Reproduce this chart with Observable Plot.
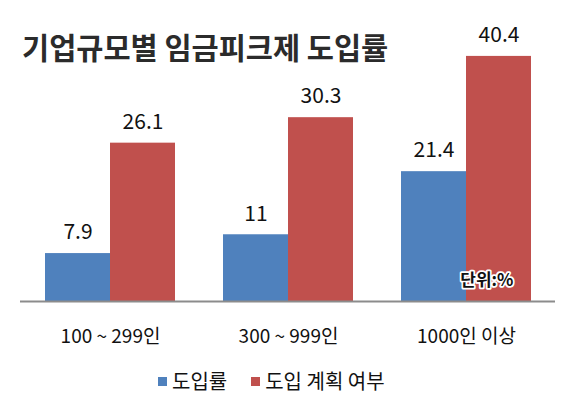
<!DOCTYPE html>
<html>
<head>
<meta charset="utf-8">
<script src="https://cdn.jsdelivr.net/npm/d3@7"></script>
<script src="https://cdn.jsdelivr.net/npm/@observablehq/plot@0.6"></script>
<style>
  html, body { margin: 0; padding: 0; background: #fff; }
  #wrap { position: relative; width: 565px; height: 395px; overflow: hidden; font-family: "Noto Sans CJK KR", "Noto Sans", sans-serif; }
  #title { position: absolute; left: 22px; top: 29px; font-size: 29.5px; line-height: 34px; font-weight: bold; color: #2b2b2b; white-space: nowrap; }
  #chart { position: absolute; left: 0; top: 0; }
  #legend { position: absolute; left: 158px; top: 367px; display: flex; align-items: center; font-size: 20px; line-height: 28px; color: #111; white-space: nowrap; }
  .item { display: flex; align-items: center; margin-right: 24px; }
  .sw { width: 9px; height: 9px; margin-right: 5px; }
</style>
</head>
<body>
<div id="wrap">
  <div id="chart"></div>
  <div id="title"></div>
  <div id="legend"></div>
</div>
<script>
const titleText = "기업규모별 임금피크제 도입률";
const groups = ["100 ~ 299인", "300 ~ 999인", "1000인 이상"];
const adoption = [7.9, 11, 21.4];
const planned = [26.1, 30.3, 40.4];
const seriesNames = ["도입률", "도입 계획 여부"];
const seriesColors = ["#4F81BD", "#C0504D"];
const unitText = "단위:%";

const blueData = groups.map((g, i) => ({group: g, value: adoption[i]}));
const redData = groups.map((g, i) => ({group: g, value: planned[i]}));

const half = 65;
const chart = Plot.plot({
  width: 565,
  height: 395,
  marginLeft: 20,
  marginRight: 10,
  marginTop: 28,
  marginBottom: 94,
  style: {fontFamily: "'Noto Sans CJK KR', 'Noto Sans', sans-serif", fontSize: "19px", color: "#111", background: "transparent"},
  x: {domain: groups, paddingInner: 0.27, paddingOuter: 0.135, tickSize: 0, tickPadding: 28, label: null},
  y: {domain: [0, 45], axis: null},
  marks: [
    Plot.barY(blueData, {x: "group", y: "value", fill: seriesColors[0], insetRight: half}),
    Plot.barY(redData, {x: "group", y: "value", fill: seriesColors[1], insetLeft: half}),
    Plot.ruleY([0], {stroke: "#8c8c8c", strokeWidth: 2}),
    Plot.text(blueData, {x: "group", y: "value", text: d => String(d.value), dx: -half / 2, dy: -21, fontSize: 21, fill: "#111"}),
    Plot.text(redData, {x: "group", y: "value", text: d => String(d.value), dx: half / 2, dy: -21, fontSize: 21, fill: "#111"}),
    Plot.text([unitText], {frameAnchor: "bottom-right", text: d => d, dx: -42, dy: -21, lineAnchor: "middle", fontSize: 17, fontWeight: 600, fill: "#111", stroke: "#fff", strokeWidth: 3.5, paintOrder: "stroke"})
  ]
});
document.getElementById("chart").appendChild(chart);
document.getElementById("title").textContent = titleText;

const legend = document.getElementById("legend");
seriesNames.forEach((name, i) => {
  const item = document.createElement("div");
  item.className = "item";
  const sw = document.createElement("div");
  sw.className = "sw";
  sw.style.background = seriesColors[i];
  const label = document.createElement("span");
  label.textContent = name;
  item.appendChild(sw);
  item.appendChild(label);
  legend.appendChild(item);
});
</script>
</body>
</html>
